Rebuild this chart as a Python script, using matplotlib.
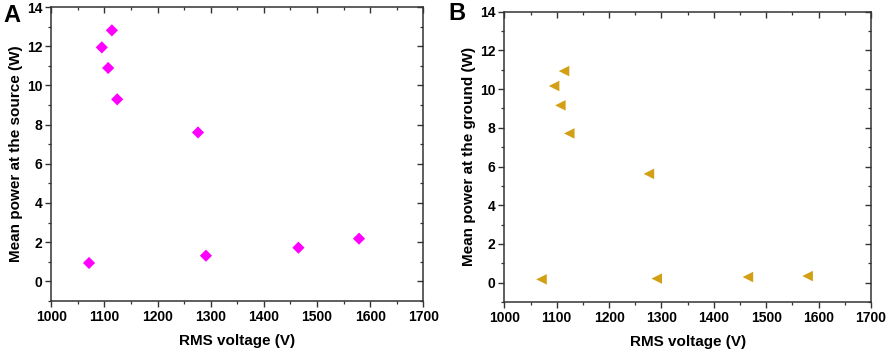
import matplotlib
matplotlib.use("Agg")
import matplotlib.pyplot as plt
from matplotlib.ticker import MultipleLocator

plt.rcParams['font.family'] = ['Liberation Sans', 'DejaVu Sans']
plt.rcParams['font.weight'] = 'bold'

# Data
rms_voltage = [1114, 1095, 1107, 1124, 1276, 1071, 1291, 1465, 1579]
power_source = [12.81, 11.94, 10.89, 9.29, 7.60, 0.94, 1.31, 1.72, 2.18]
power_ground = [10.93, 10.16, 9.16, 7.71, 5.62, 0.17, 0.21, 0.29, 0.34]

xlabel = "RMS voltage (V)"
ylabel_a = "Mean power at the source (W)"
ylabel_b = "Mean power at the ground (W)"

fig = plt.figure(figsize=(8.86, 3.51), dpi=100)
axA = fig.add_axes([0.0579, 0.1425, 0.4199, 0.8375])
axB = fig.add_axes([0.5692, 0.1396, 0.4139, 0.8271])

spine_col = '#333333'

def style(ax, ylabel):
    ax.set_xlim(1000, 1700)
    ax.set_ylim(-1, 14)
    ax.xaxis.set_major_locator(MultipleLocator(100))
    ax.xaxis.set_minor_locator(MultipleLocator(50))
    ax.yaxis.set_major_locator(MultipleLocator(2))
    ax.yaxis.set_minor_locator(MultipleLocator(1))
    ax.tick_params(which='major', direction='out', length=4.5, width=1.0,
                   color=spine_col, labelsize=10, pad=2)
    ax.tick_params(which='minor', direction='out', length=2.5, width=0.9,
                   color=spine_col)
    for s in ax.spines.values():
        s.set_color(spine_col)
        s.set_linewidth(1.1)
    ax.set_xlabel(xlabel, fontsize=11, fontweight='bold', labelpad=7)
    ax.set_ylabel(ylabel, fontsize=11, fontweight='bold', labelpad=3)
    # mirrored inward ticks on top and right
    top = ax.secondary_xaxis('top')
    top.xaxis.set_major_locator(MultipleLocator(100))
    top.xaxis.set_minor_locator(MultipleLocator(50))
    top.tick_params(which='major', direction='in', length=4.5, width=1.0,
                    color=spine_col, labeltop=False)
    top.tick_params(which='minor', direction='in', length=2.5, width=0.9,
                    color=spine_col)
    top.spines['top'].set_visible(False)
    right = ax.secondary_yaxis('right')
    right.yaxis.set_major_locator(MultipleLocator(2))
    right.yaxis.set_minor_locator(MultipleLocator(1))
    right.tick_params(which='major', direction='in', length=4.5, width=1.0,
                      color=spine_col, labelright=False)
    right.tick_params(which='minor', direction='in', length=2.5, width=0.9,
                      color=spine_col)
    right.spines['right'].set_visible(False)

axA.scatter(rms_voltage, power_source, marker='D', s=6.2**2,
            color='#FF00FF', edgecolors='none', zorder=3)
axB.scatter(rms_voltage, power_ground, marker='<', s=7.6**2,
            color='#D3A015', edgecolors='none', zorder=3)

style(axA, ylabel_a)
style(axB, ylabel_b)

fig.text(0.004, 0.955, "A", fontsize=17, fontweight='bold', ha='left', va='center')
fig.text(0.506, 0.962, "B", fontsize=17, fontweight='bold', ha='left', va='center')

fig.savefig("out.png", dpi=100)
